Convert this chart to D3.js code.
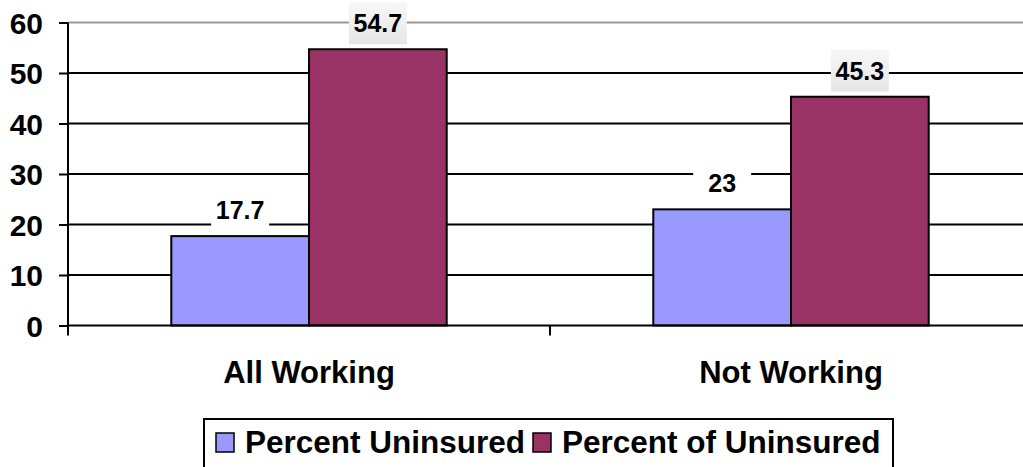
<!DOCTYPE html>
<html><head><meta charset="utf-8">
<script src="https://cdn.jsdelivr.net/npm/d3@7"></script>
<style>
html,body{margin:0;padding:0;background:#fff;}
svg{display:block;font-family:"Liberation Sans",Arial,sans-serif;font-weight:bold;}
</style></head>
<body>
<svg id="chart" width="1023" height="467"></svg>
<script>
const categories = ["All Working", "Not Working"];
const seriesNames = ["Percent Uninsured", "Percent of Uninsured"];
const percentUninsured = [17.7, 23];
const percentOfUninsured = [54.7, 45.3];
const yTicks = [0, 10, 20, 30, 40, 50, 60];
const colors = ["#9999FF", "#993366"];

(function(){
const svg = d3.select("#chart");
const pl = 68, pr = 1032, pt = 22.5, pb = 325.5;

const x0 = d3.scaleBand().domain(categories).range([pl, pr]).paddingInner(0).paddingOuter(0);
const x1 = d3.scaleBand().domain(seriesNames).range([0, x0.bandwidth()]).paddingInner(0).paddingOuter(0.75);
const y = d3.scaleLinear().domain([0, 60]).range([pb, pt]);

const defs = svg.append("defs");
const grad = defs.append("linearGradient").attr("id","lblg").attr("x1",0).attr("y1",0).attr("x2",0).attr("y2",1);
grad.append("stop").attr("offset","0%").attr("stop-color","#f7f7f7");
grad.append("stop").attr("offset","100%").attr("stop-color","#e6e6e6");

// gridlines
svg.append("g").selectAll("line").data(yTicks.filter(d => d > 0)).join("line")
  .attr("x1", pl).attr("x2", 1023)
  .attr("y1", d => y(d)).attr("y2", d => y(d))
  .attr("stroke", d => d === 60 ? "#999" : "#000")
  .attr("stroke-width", 2);

// y axis
const yAxis = d3.axisLeft(y).tickValues(yTicks).tickSize(9).tickPadding(16).tickFormat(d3.format("d"));
const gy = svg.append("g").attr("transform", `translate(${pl},0)`).call(yAxis);
gy.select(".domain").remove();
gy.selectAll(".tick line").attr("stroke", "#000").attr("stroke-width", 2);
gy.selectAll(".tick text").attr("font-size", 30).attr("font-family", "Liberation Sans, Arial, sans-serif")
  .attr("font-weight", "bold").attr("fill", "#000").attr("dy", "0.35em");
svg.append("line").attr("x1", pl).attr("x2", pl).attr("y1", y(60)).attr("y2", pb + 10)
  .attr("stroke", "#000").attr("stroke-width", 2);

// bars
const data = categories.map((c, i) => ({cat: c, vals: [percentUninsured[i], percentOfUninsured[i]]}));
const groups = svg.append("g").selectAll("g").data(data).join("g")
  .attr("transform", d => `translate(${x0(d.cat)},0)`);
groups.selectAll("rect").data(d => d.vals.map((v, j) => ({s: seriesNames[j], v, j}))).join("rect")
  .attr("x", d => x1(d.s)).attr("width", x1.bandwidth())
  .attr("y", d => y(d.v)).attr("height", d => y(0) - y(d.v))
  .attr("fill", d => colors[d.j]).attr("stroke", "#000").attr("stroke-width", 2);

// baseline
svg.append("line").attr("x1", pl).attr("x2", 1023).attr("y1", pb).attr("y2", pb)
  .attr("stroke", "#000").attr("stroke-width", 2);

// category ticks
categories.forEach(c => {
  const xb = x0(c) + x0.bandwidth();
  svg.append("line").attr("x1", xb).attr("x2", xb).attr("y1", pb).attr("y2", pb + 10)
    .attr("stroke", "#000").attr("stroke-width", 2);
});
const xAxis = d3.axisBottom(x0).tickSize(0);
const gx = svg.append("g").attr("transform", `translate(0,${pb})`).call(xAxis);
gx.select(".domain").remove();
gx.selectAll(".tick text").attr("font-size", 31).attr("font-family", "Liberation Sans, Arial, sans-serif")
  .attr("font-weight", "bold").attr("fill", "#000").attr("dy", 0).attr("y", 57.5);

// data labels
const lbl = groups.selectAll("g.lbl").data(d => d.vals.map((v, j) => ({s: seriesNames[j], v, j}))).join("g")
  .attr("class", "lbl")
  .attr("transform", d => `translate(${x1(d.s) + x1.bandwidth()/2},${y(d.v) - 26})`);
lbl.append("rect").attr("x", -29).attr("y", -21).attr("width", 58).attr("height", 42)
  .attr("fill", d => d.j === 1 ? "url(#lblg)" : "#fff");
lbl.append("text").attr("text-anchor", "middle").attr("dy", "0.36em")
  .attr("font-size", 25).attr("fill", "#000").text(d => d.v);

// legend
const lg = svg.append("g");
lg.append("rect").attr("x", 204).attr("y", 419).attr("width", 689).attr("height", 60)
  .attr("fill", "#fff").attr("stroke", "#000").attr("stroke-width", 2);
const legX = [216, 533];
seriesNames.forEach((s, i) => {
  lg.append("rect").attr("x", legX[i]).attr("y", 433).attr("width", 18).attr("height", 19)
    .attr("fill", colors[i]).attr("stroke", "#000").attr("stroke-width", 1.5);
  lg.append("text").attr("x", legX[i] + 29).attr("y", 452.5).attr("font-size", 31.5).attr("fill", "#000").text(s);
});
})();
</script>
</body></html>
